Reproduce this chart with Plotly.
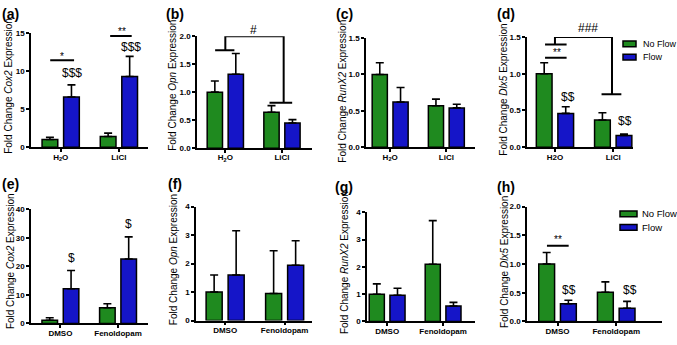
import plotly.graph_objects as go

# ---------------- data ----------------
series_names = ["No Flow", "Flow"]
series_colors = ["#1F8A1F", "#1515C8"]

top_groups = ["H2O", "LiCl"]
top_labels_sub = ["H<sub>2</sub>O", "LiCl"]
top_labels_plain = ["H2O", "LiCl"]
bottom_groups = ["DMSO", "Fenoldopam"]
bottom_labels = ["DMSO", "Fenoldopam"]

# (a) Cox2, LiCl
a_noflow = [1.0, 1.4]
a_noflow_err = [0.3, 0.45]
a_flow = [6.6, 9.3]
a_flow_err = [1.6, 2.65]

# (b) Opn, LiCl
b_noflow = [1.0, 0.64]
b_noflow_err = [0.2, 0.12]
b_flow = [1.32, 0.45]
b_flow_err = [0.37, 0.06]

# (c) RunX2, LiCl
c_noflow = [1.0, 0.57]
c_noflow_err = [0.16, 0.09]
c_flow = [0.62, 0.54]
c_flow_err = [0.2, 0.05]

# (d) Dlx5, LiCl
d_noflow = [1.0, 0.37]
d_noflow_err = [0.15, 0.1]
d_flow = [0.46, 0.16]
d_flow_err = [0.09, 0.02]

# (e) Cox2, Fenoldopam
e_noflow = [1.1, 5.5]
e_noflow_err = [0.9, 1.4]
e_flow = [12.2, 22.6]
e_flow_err = [6.4, 7.8]

# (f) Opn, Fenoldopam
f_noflow = [1.0, 0.95]
f_noflow_err = [0.6, 1.5]
f_flow = [1.6, 1.94]
f_flow_err = [1.55, 0.86]

# (g) RunX2, Fenoldopam
g_noflow = [1.0, 2.1]
g_noflow_err = [0.38, 1.6]
g_flow = [0.96, 0.57]
g_flow_err = [0.26, 0.13]

# (h) Dlx5, Fenoldopam
h_noflow = [1.0, 0.51]
h_noflow_err = [0.2, 0.18]
h_flow = [0.31, 0.23]
h_flow_err = [0.06, 0.12]

y_titles = [
    "Fold Change <i>Cox2</i> Expression",
    "Fold Change <i>Opn</i> Expression",
    "Fold Change <i>RunX2</i> Expression",
    "Fold Change <i>Dlx5</i> Expression",
]
panel_letters = ["(a)", "(b)", "(c)", "(d)", "(e)", "(f)", "(g)", "(h)"]

# significance lines: (x0, x1, y)
sig_lines = {
    0: [(-0.18, 0.23, 11.45), (0.85, 1.22, 14.65)],
    1: [(-0.18, 0.16, 1.75), (0.78, 1.18, 0.81)],
    3: [(-0.17, 0.2, 1.40), (-0.17, 0.2, 1.22), (0.8, 1.14, 0.72)],
    7: [(-0.18, 0.19, 1.32)],
}
# brackets: list of (x, y) vertices
sig_brackets = {
    1: [[(0, 1.75), (0, 2.0), (1.03, 2.0), (1.03, 0.81)]],
    3: [[(0, 1.40), (0, 1.5), (0.98, 1.5), (0.98, 0.72)]],
}
# significance text: (x, y, text)
sig_texts = {
    0: [(0.02, 12.0, "*"), (1.06, 15.2, "**"), (0.2, 9.7, "$$$"), (1.2, 13.2, "$$$")],
    1: [(0.5, 2.11, "#")],
    3: [(0.57, 1.63, "###"), (0.03, 1.29, "**"), (0.22, 0.69, "$$"), (1.2, 0.35, "$$")],
    4: [(0.19, 23.0, "$"), (1.18, 34.8, "$")],
    7: [(0.0, 1.43, "**"), (0.2, 0.55, "$$"), (1.23, 0.55, "$$")],
}

# ---------------- layout geometry (pixels) ----------------
W, H = 677, 345
panels = [
    dict(g=top_groups, lab=top_labels_sub, nf=a_noflow, nfe=a_noflow_err, fl=a_flow, fle=a_flow_err,
         xpx=(31, 148), ypx=(30, 147), xr=(-0.51, 1.5), ymax=15, dtick=5, fmt="d", title=0, tx=9, ty=84, lx=11, ly=10),
    dict(g=top_groups, lab=top_labels_sub, nf=b_noflow, nfe=b_noflow_err, fl=b_flow, fle=b_flow_err,
         xpx=(197, 312), ypx=(33, 148), xr=(-0.5, 1.53), ymax=2.0, dtick=0.5, fmt=".1f", title=1, tx=173, ty=84, lx=175, ly=10),
    dict(g=top_groups, lab=top_labels_sub, nf=c_noflow, nfe=c_noflow_err, fl=c_flow, fle=c_flow_err,
         xpx=(366, 475), ypx=(35, 147), xr=(-0.43, 1.51), ymax=1.5, dtick=0.5, fmt=".1f", title=2, tx=343, ty=90, lx=344, ly=10),
    dict(g=top_groups, lab=top_labels_plain, nf=d_noflow, nfe=d_noflow_err, fl=d_flow, fle=d_flow_err,
         xpx=(527, 633), ypx=(34, 147), xr=(-0.48, 1.34), ymax=1.5, dtick=0.5, fmt=".1f", title=3, tx=504, ty=88, lx=506, ly=10),
    dict(g=bottom_groups, lab=bottom_labels, nf=e_noflow, nfe=e_noflow_err, fl=e_flow, fle=e_flow_err,
         xpx=(31, 148), ypx=(211, 328), xr=(-0.51, 1.52), ymax=40, dtick=10, fmt="d", title=0, tx=10, ty=264, lx=11, ly=185),
    dict(g=bottom_groups, lab=bottom_labels, nf=f_noflow, nfe=f_noflow_err, fl=f_flow, fle=f_flow_err,
         xpx=(196, 312), ypx=(208, 325), xr=(-0.49, 1.46), ymax=4, dtick=1, fmt="d", title=1, tx=173, ty=263, lx=175, ly=185),
    dict(g=bottom_groups, lab=bottom_labels, nf=g_noflow, nfe=g_noflow_err, fl=g_flow, fle=g_flow_err,
         xpx=(367, 475), ypx=(214, 326), xr=(-0.36, 1.57), ymax=4, dtick=1, fmt="d", title=2, tx=344, ty=266, lx=344, ly=188),
    dict(g=bottom_groups, lab=bottom_labels, nf=h_noflow, nfe=h_noflow_err, fl=h_flow, fle=h_flow_err,
         xpx=(527, 662), ypx=(208, 326), xr=(-0.52, 1.78), ymax=2.0, dtick=0.5, fmt=".1f", title=3, tx=504, ty=265, lx=506, ly=188),
]

# legend placement (pixels): box left/right, first-row center y, row spacing, text x, font size
legend_specs = {
    3: dict(bx=(623, 636), y0=41, dy=13.5, tx=641, fs=9, bh=6),
    7: dict(bx=(620, 637), y0=215.5, dy=13.8, tx=640, fs=9.5, bh=6),
}

FONT = "Arial, Liberation Sans, sans-serif"
fig = go.Figure()
annotations = []
shapes = []
layout_axes = {}

for i, p in enumerate(panels):
    n = i + 1
    xa = "x" if n == 1 else f"x{n}"
    ya = "y" if n == 1 else f"y{n}"
    for s, (vals, errs) in enumerate([(p["nf"], p["nfe"]), (p["fl"], p["fle"])]):
        fig.add_trace(go.Bar(
            x=p["g"], y=vals, name=series_names[s], xaxis=xa, yaxis=ya,
            marker=dict(color=series_colors[s], line=dict(color="black", width=1.5)),
            error_y=dict(type="data", array=errs, arrayminus=[0] * len(errs), symmetric=False,
                         color="black", thickness=1.6, width=4),
            showlegend=False, cliponaxis=False, offsetgroup=str(s),
        ))

    xkey = "xaxis" if n == 1 else f"xaxis{n}"
    ykey = "yaxis" if n == 1 else f"yaxis{n}"
    layout_axes[xkey] = dict(
        domain=[p["xpx"][0] / W, p["xpx"][1] / W], anchor=ya, type="category",
        range=list(p["xr"]), tickvals=p["g"], ticktext=p["lab"],
        showline=True, linecolor="black", linewidth=1.5, ticks="outside", ticklen=3,
        tickwidth=1.5, tickcolor="black", showgrid=False, zeroline=False,
        ticklabelstandoff=-2,
        tickfont=dict(family=FONT, size=8, color="black", weight="bold"), fixedrange=True,
    )
    layout_axes[ykey] = dict(
        domain=[(H - p["ypx"][1]) / H, (H - p["ypx"][0]) / H], anchor=xa,
        range=[0, p["ymax"]], dtick=p["dtick"], tick0=0, tickformat=p["fmt"],
        showline=True, linecolor="black", linewidth=1.5, ticks="outside", ticklen=3,
        tickwidth=1.5, tickcolor="black", showgrid=False, zeroline=False,
        tickfont=dict(family=FONT, size=8, color="black", weight="bold"), fixedrange=True,
    )

    annotations.append(dict(
        text=y_titles[p["title"]], xref="paper", yref="paper", x=p["tx"] / W, y=(H - p["ty"]) / H,
        textangle=-90, showarrow=False, xanchor="center", yanchor="middle",
        font=dict(family=FONT, size=10, color="black"),
    ))
    annotations.append(dict(
        text=panel_letters[i], xref="paper", yref="paper", x=p["lx"] / W, y=(H - p["ly"]) / H,
        showarrow=False, xanchor="center", yanchor="middle",
        font=dict(family=FONT, size=14, color="black", weight="bold"),
    ))

    for (x0, x1, y) in sig_lines.get(i, []):
        shapes.append(dict(type="line", xref=xa, yref=ya, x0=x0, x1=x1, y0=y, y1=y,
                           line=dict(color="black", width=2)))
    for pts in sig_brackets.get(i, []):
        path = "M " + " L ".join(f"{x},{y}" for x, y in pts)
        shapes.append(dict(type="path", xref=xa, yref=ya, path=path,
                           line=dict(color="black", width=2)))
    for (x, y, t) in sig_texts.get(i, []):
        size = 10 if "*" in t else 12
        annotations.append(dict(text=t, xref=xa, yref=f"{ya} domain", x=x, y=y / p["ymax"],
                                showarrow=False, xanchor="center", yanchor="middle",
                                font=dict(family=FONT, size=size, color="black")))

    # legend keys
    if i in legend_specs:
        L = legend_specs[i]
        for s, name in enumerate(series_names):
            cy = L["y0"] + s * L["dy"]
            shapes.append(dict(type="rect", xref="paper", yref="paper",
                               x0=L["bx"][0] / W, x1=L["bx"][1] / W,
                               y0=(H - cy - L["bh"] / 2) / H, y1=(H - cy + L["bh"] / 2) / H,
                               fillcolor=series_colors[s], line=dict(color="black", width=1.5)))
            annotations.append(dict(text=name, xref="paper", yref="paper", x=L["tx"] / W, y=(H - cy) / H,
                                    showarrow=False, xanchor="left", yanchor="middle",
                                    font=dict(family=FONT, size=L["fs"], color="black")))

fig.update_layout(
    width=W, height=H, margin=dict(l=0, r=0, t=0, b=0),
    paper_bgcolor="white", plot_bgcolor="white",
    barmode="group", bargap=0.26, bargroupgap=0.27,
    font=dict(family=FONT, color="black"),
    annotations=annotations, shapes=shapes, showlegend=False,
    **layout_axes,
)

fig.write_html(
    "out.html",
    config={"displayModeBar": False, "responsive": False},
    post_script="document.body.style.margin='0';document.body.style.overflow='hidden';",
)
